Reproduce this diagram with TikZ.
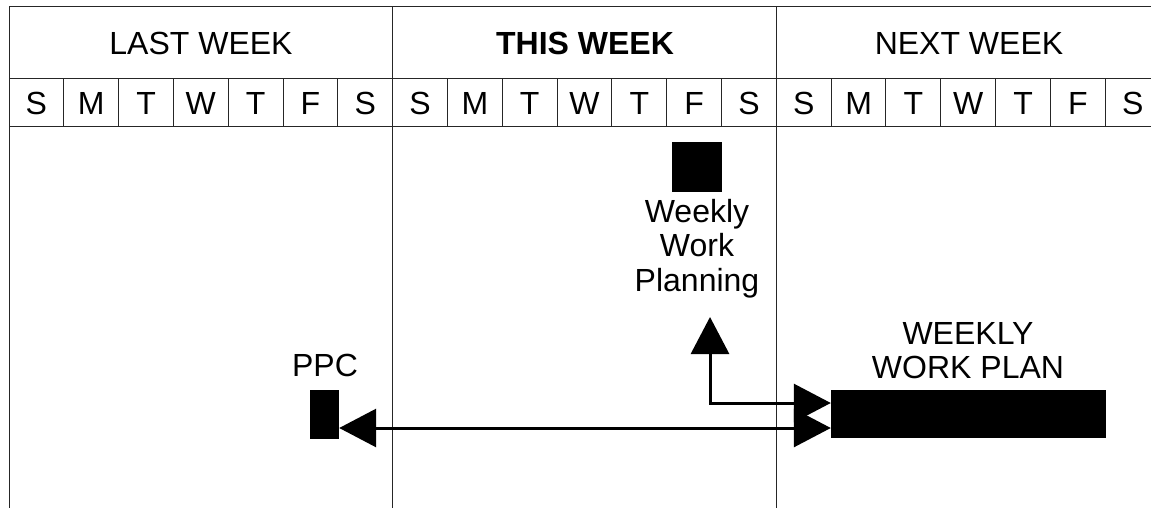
\documentclass[tikz,border=0pt]{standalone}
\usepackage{fontspec}
\setmainfont{Liberation Sans}
\usetikzlibrary{arrows.meta}
\begin{document}
\begin{tikzpicture}[x=1pt,y=-1pt,
  grid/.style={line width=1pt,draw=black!85},
  week/.style={font=\fontsize{32}{34.5}\selectfont,inner sep=0pt},
  day/.style={font=\fontsize{32}{32}\selectfont,inner sep=0pt},
  txt/.style={font=\fontsize{32}{34.5}\selectfont,align=center,inner sep=0pt},
  block/.style={fill=black,inner sep=0pt},
  link/.style={line width=3pt,
    {Triangle[length=37pt,width=38pt]}-{Triangle[length=37pt,width=38pt]}}]
  \useasboundingbox (0,0) rectangle (1151,508);

  % the calendar: three weeks of seven days
  \foreach \y in {7,79,127}
    \draw[grid] (9,\y) -- (1151,\y);
  \foreach \w in {0,1,2}
    \draw[grid] ({9+383.7*\w},7) -- ++(0,501);
  \foreach \i in {1,...,20}
    \draw[grid] ({9+54.81*\i},79) -- ({9+54.81*\i},127);

  \node[week] (last) at (201,43) {LAST WEEK};
  \node[week] (this) at (585,43) {\bfseries THIS WEEK};
  \node[week] (next) at (969,43) {NEXT WEEK};
  \foreach \w in {0,1,2}
    \foreach \d [count=\i from 0] in {S,M,T,W,T,F,S}
      \node[day] (d\w\i) at ({9+383.7*\w+54.81*(\i+0.5)},103) {\d};

  % blocks and their labels
  \node[block,minimum width=29pt,minimum height=49pt] (ppc) at (324.5,414) {};
  \node[txt] (ppctext) at (325,365) {PPC};
  \node[block,minimum size=50pt] (wwp) at (697,167) {};
  \node[txt,anchor=north] (planning) at (697,199) {Weekly\\Work\\Planning};
  \node[block,minimum width=275pt,minimum height=48pt] (plan) at (968.5,414) {};
  \node[txt,anchor=north] (plantext) at (968,322) {WEEKLY\\WORK PLAN};

  % feedback links
  \coordinate (bend) at (710,403);
  \coordinate (up) at (710,317);
  \draw[link] ([yshift=11pt]plan.west) -- (bend) -- (up);
  \draw[link] ([yshift=-14pt]plan.west) -- ([yshift=-14pt]ppc.east);
\end{tikzpicture}
\end{document}
